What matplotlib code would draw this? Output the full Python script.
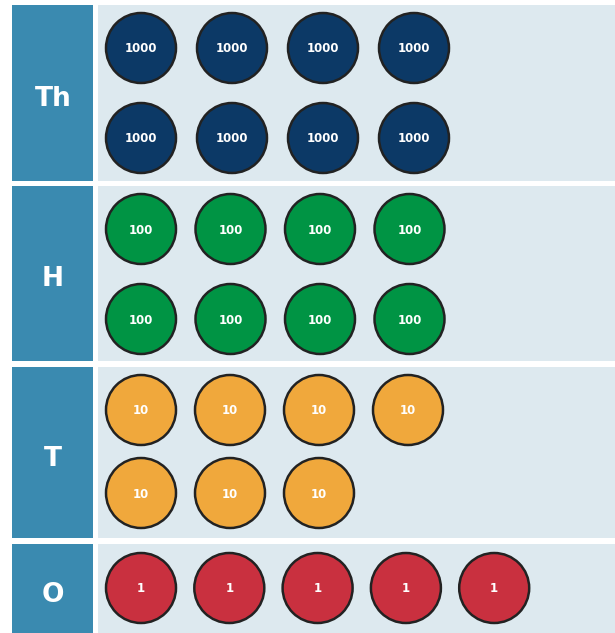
import matplotlib.pyplot as plt
from matplotlib.patches import Rectangle, Circle

# place value chart data
labels = ['Th', 'H', 'T', 'O']
values = ['1000', '100', '10', '1']
counts_row1 = [4, 4, 4, 5]   # counters in first line of each row
counts_row2 = [4, 4, 3, 0]   # counters in second line
colors = ['#0c3966', '#009444', '#f0a83c', '#c9303f']

# layout (pixels)
row_top = [5, 186, 367, 544]
row_bot = [181, 361, 538, 640]
line_y = [[48, 138], [229, 319], [410, 493], [588, None]]
x0 = 141
x_step = [91, 89.5, 89, 88.3]
r = 35

fig = plt.figure(figsize=(6.15, 6.33), dpi=100)
ax = fig.add_axes([0, 0, 1, 1])
ax.set_xlim(0, 615)
ax.set_ylim(633, 0)
ax.axis('off')

for i in range(len(labels)):
    top, bot = row_top[i], row_bot[i]
    ax.add_patch(Rectangle((12, top), 81, bot - top, facecolor='#3a8ab0', edgecolor='none'))
    ax.add_patch(Rectangle((98, top), 517, bot - top, facecolor='#dde9ef', edgecolor='none'))
    lab_y = (top + min(bot, 633)) / 2 + 6
    ax.text(53, lab_y, labels[i], color='white', fontsize=19, fontweight='bold',
            ha='center', va='center', family='DejaVu Sans')
    for line, n in enumerate([counts_row1[i], counts_row2[i]]):
        for k in range(n):
            cx = x0 + k * x_step[i]
            cy = line_y[i][line]
            ax.add_patch(Circle((cx, cy), r, facecolor=colors[i], edgecolor='#222222', linewidth=1.8))
            ax.text(cx, cy + 1, values[i], color='white', fontsize=8.5, fontweight='bold',
                    ha='center', va='center', family='DejaVu Sans')

fig.savefig('out.png', dpi=100)
